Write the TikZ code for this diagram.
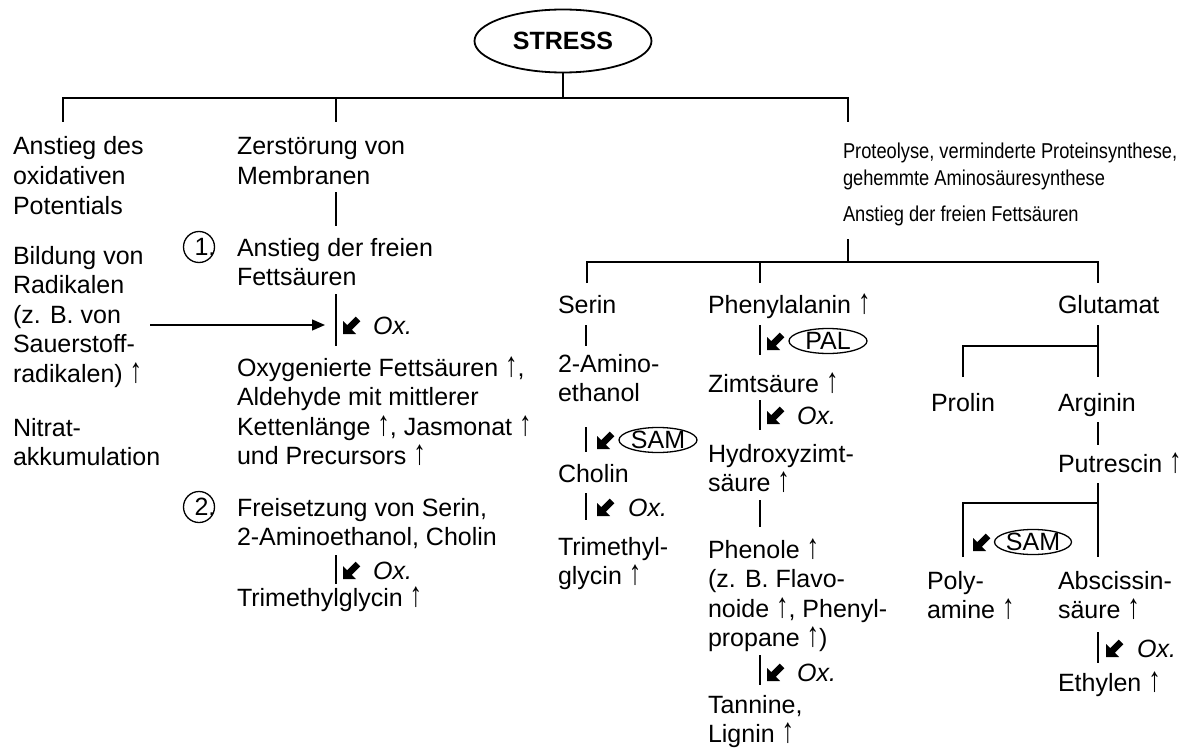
\documentclass[tikz,border=0pt]{standalone}
\usepackage{fontspec}
\setmainfont{Liberation Sans}
\usetikzlibrary{shapes.geometric,arrows.meta}
\newcommand\tf{\fontsize{25}{29.5}\selectfont}
\newcommand\hf{\fontsize{21.5}{28}\selectfont}
\newcommand\hx[1]{\scalebox{0.85}[1]{#1}}
\newcommand\up{\scalebox{1}[1.4]{↑}}
\tikzset{
 t/.style={anchor=north west, inner sep=0pt, outer sep=0pt, align=left, font=\tf, yshift=20.65pt},
 th/.style={anchor=north west, inner sep=0pt, outer sep=0pt, align=left, font=\hf, yshift=19.6pt},
 ox/.style={font=\tf\itshape, anchor=base west, inner sep=0pt},
 ln/.style={line width=1.3pt},
 oval/.style={ellipse, draw, line width=1.3pt, inner sep=0pt, font=\tf},
 num/.style={circle, draw, line width=1.3pt, minimum size=31pt, inner sep=0pt},
 numtxt/.style={font=\tf, inner sep=0pt},
 pics/oxarrow/.style={code={\fill (0,0) -- (13,0) -- (8.76,-4.24) -- (17.26,-12.74) -- (12.74,-17.26) -- (4.24,-8.76) -- (0,-13) -- cycle;}},
}
\begin{document}
\begin{tikzpicture}[x=1pt,y=-1pt]
\useasboundingbox (0,0) rectangle (1194,749);
\fill[white] (0,0) rectangle (1194,749);
% top
\node[oval, line width=1.8pt, minimum width=177pt, minimum height=63pt, font=\tf\bfseries] (stress) at (563,41) {STRESS};
\coordinate (barL) at (63,98);
\coordinate (barM) at (336,98);
\coordinate (barR) at (848,98);
\draw[ln] (stress.south) -- (stress.south |- barL);
\draw[ln] ([yshift=-24pt]barL) -- (barL) -- (barR) -- ([yshift=-24pt]barR);
\draw[ln] (barM) -- ([yshift=-24pt]barM);
% left column
\node[t] (a1) at (13,155) {\strut Anstieg des\\oxidativen\\Potentials};
\node[t] (a2) at (13,264) {\strut Bildung von\\Radikalen\\(z. B. von\\Sauerstoff-\\radikalen) \up};
\node[t] (a3) at (13,436) {\strut Nitrat-\\akkumulation};
% membrane column
\node[t] (z1) at (237,155) {\strut Zerstörung von\\Membranen};
\draw[ln] (336,192) -- (336,226);
\node[num] (c1) at (199,247) {};
\node[numtxt] (c1t) at (205,247) {1.};
\node[t] (z2) at (237,256) {\strut Anstieg der freien\\Fettsäuren};
\draw[ln] (336,294) -- (336,346);
\coordinate (rs) at (150,325);
\coordinate (re) at (325,325);
\draw[ln, -{Triangle[length=13pt,width=11pt]}] (rs) -- (re);
\pic at (343,334) {oxarrow};
\node[ox] (ox1) at (373,334) {Ox.};
\node[t] (z3) at (237,376) {\strut Oxygenierte Fettsäuren \up,\\Aldehyde mit mittlerer\\Kettenlänge \up, Jasmonat \up\\und Precursors \up};
\node[num] (c2) at (199,507) {};
\node[numtxt] (c2t) at (205,507) {2.};
\node[t] (z4) at (237,516) {\strut Freisetzung von Serin,\\2-Aminoethanol, Cholin};
\draw[ln] (336,555) -- (336,584);
\pic at (343,579) {oxarrow};
\node[ox] (ox2) at (373,579) {Ox.};
\node[t] (z5) at (237,606) {\strut Trimethylglycin \up};
% right header
\node[th] (p1) at (843,158) {\strut\hx{Proteolyse, verminderte Proteinsynthese,}\\\hx{gehemmte Aminosäuresynthese}};
\node[th] (p2) at (843,221) {\strut\hx{Anstieg der freien Fettsäuren}};
\coordinate (b2L) at (587,262);
\coordinate (b2M) at (760,262);
\coordinate (b2R) at (1098,262);
\draw[ln] (848,239) -- (848,262);
\draw[ln] ([yshift=-21pt]b2L) -- (b2L) -- (b2R) -- ([yshift=-21pt]b2R);
\draw[ln] (b2M) -- ([yshift=-21pt]b2M);
% Serin column
\node[t] (s1) at (558,313) {\strut Serin};
\draw[ln] (586,325) -- (586,346);
\node[t] (s2) at (558,372) {\strut 2-Amino-\\ethanol};
\draw[ln] (586,427) -- (586,452);
\pic at (597,449) {oxarrow};
\node[oval, minimum width=78pt, minimum height=25pt] (sam1) at (658,440) {SAM};
\node[t] (s3) at (558,482) {\strut Cholin};
\draw[ln] (586,493) -- (586,520);
\pic at (597,516) {oxarrow};
\node[ox] (ox3) at (628,516) {Ox.};
\node[t] (s4) at (558,555) {\strut Trimethyl-\\glycin \up};
% Phenylalanin column
\node[t] (f1) at (708,313) {\strut Phenylalanin \up};
\draw[ln] (760,325) -- (760,355);
\pic at (767,350) {oxarrow};
\node[oval, minimum width=78pt, minimum height=25pt] (pal) at (828,341) {PAL};
\node[t] (f2) at (708,392) {\strut Zimtsäure \up};
\draw[ln] (760,400) -- (760,430);
\pic at (767,424) {oxarrow};
\node[ox] (ox4) at (797,424) {Ox.};
\node[t] (f3) at (708,462) {\strut Hydroxyzimt-\\säure \up};
\draw[ln] (760,500) -- (760,527);
\node[t] (f4) at (708,558) {\strut Phenole \up\\(z. B. Flavo-\\noide \up, Phenyl-\\propane \up)};
\draw[ln] (760,655) -- (760,685);
\pic at (767,681) {oxarrow};
\node[ox] (ox5) at (797,681) {Ox.};
\node[t] (f5) at (708,713) {\strut Tannine,\\Lignin \up};
% Glutamat column
\node[t] (g1) at (1058,313) {\strut Glutamat};
\draw[ln] (1098,325) -- (1098,377);
\draw[ln] (963,377) -- (963,346) -- (1098,346);
\node[t] (g2) at (931,411) {\strut Prolin};
\node[t] (g3) at (1058,411) {\strut Arginin};
\draw[ln] (1098,422) -- (1098,445);
\node[t] (g4) at (1058,472) {\strut Putrescin \up};
\draw[ln] (1098,483) -- (1098,557);
\draw[ln] (963,557) -- (963,503) -- (1098,503);
\pic at (973,551) {oxarrow};
\node[oval, minimum width=77pt, minimum height=23pt] (sam2) at (1033,542) {SAM};
\node[t] (g5) at (927,589) {\strut Poly-\\amine \up};
\node[t] (g6) at (1058,589) {\strut Abscissin-\\säure \up};
\draw[ln] (1098,632) -- (1098,663);
\pic at (1106,657) {oxarrow};
\node[ox] (ox6) at (1137,657) {Ox.};
\node[t] (g7) at (1058,691) {\strut Ethylen \up};
\end{tikzpicture}
\end{document}
